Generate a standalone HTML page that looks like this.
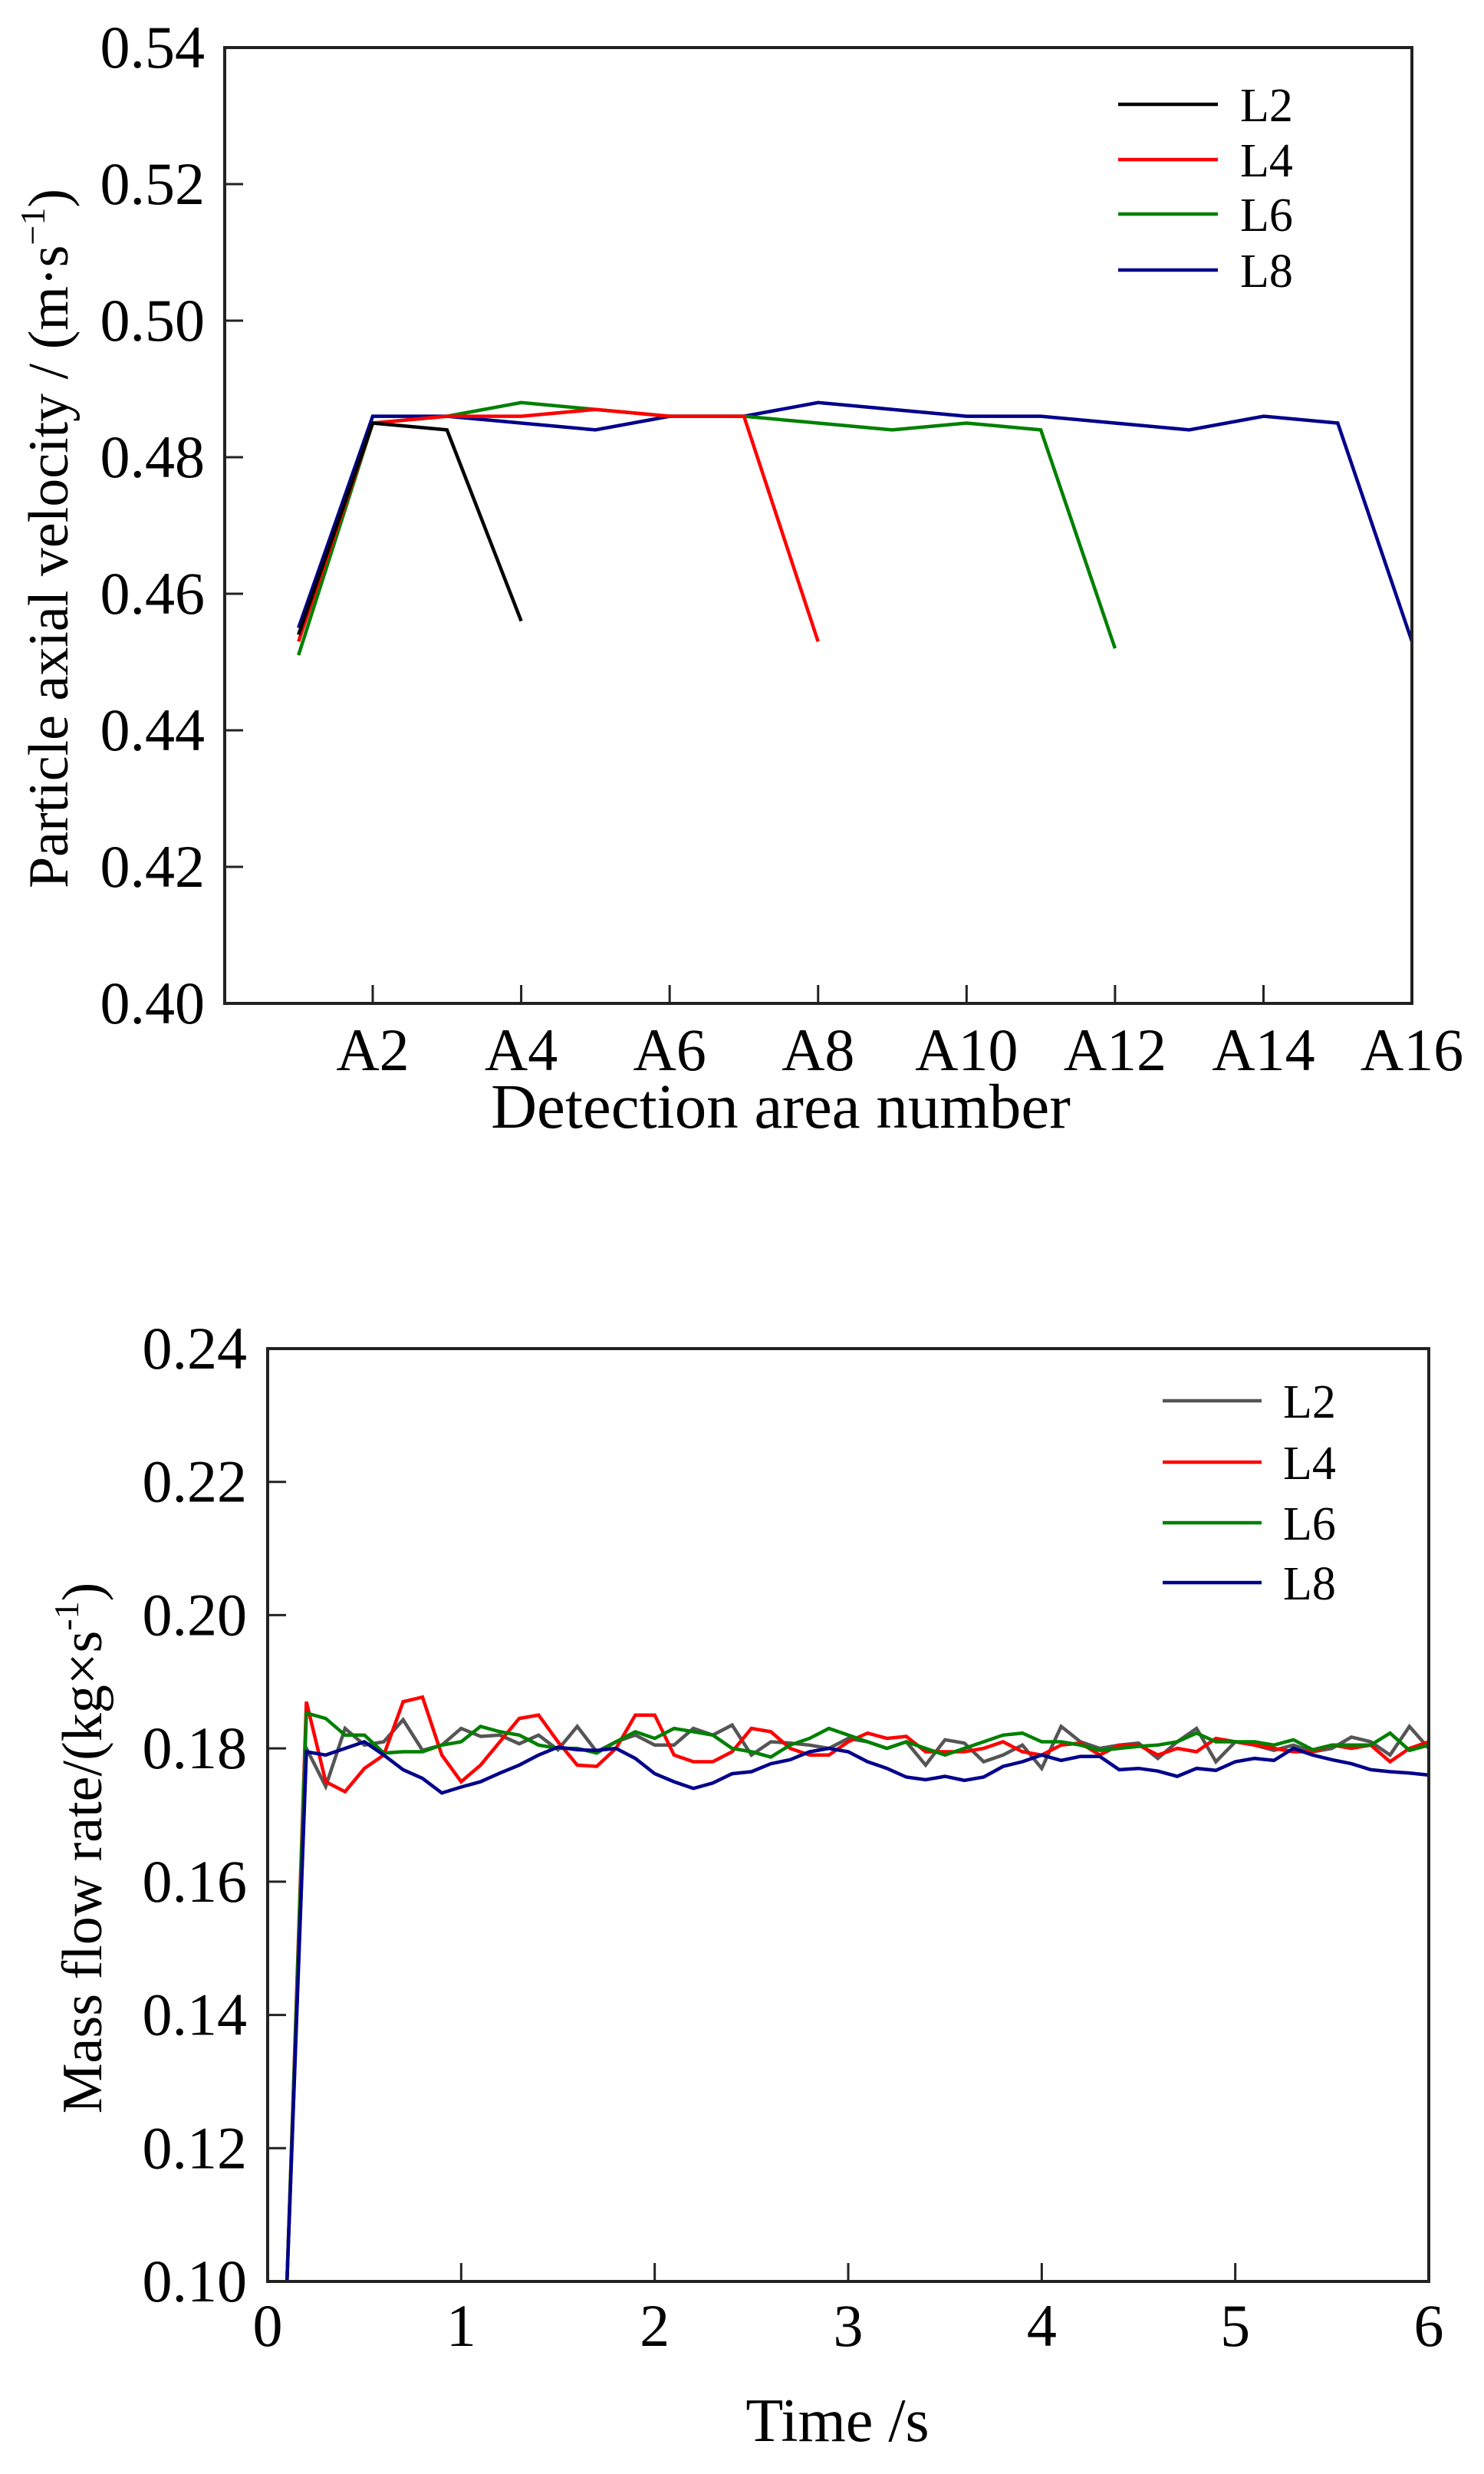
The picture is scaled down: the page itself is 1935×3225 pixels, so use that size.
<!DOCTYPE html>
<html><head><meta charset="utf-8">
<style>
html,body{margin:0;padding:0;background:#fff;}
svg text{font-family:"Liberation Serif","Times New Roman",serif;fill:#000;}
</style></head>
<body>
<svg id="s" width="1935" height="3220" viewBox="0 0 1935 3220" xmlns="http://www.w3.org/2000/svg">
<rect width="1935" height="3220" fill="#fff"/>
<g id="c1"></g>
<g id="c2"></g>
<text x="1018" y="1470" font-size="83" text-anchor="middle">Detection area number</text>
<text transform="translate(88,702) rotate(-90)" font-size="74" text-anchor="middle">Particle axial velocity / (m·s<tspan font-size="46" dy="-30">−1</tspan><tspan dy="30">)</tspan></text>
<text x="1092" y="3182" font-size="80" text-anchor="middle">Time /s</text>
<text transform="translate(132,2409) rotate(-90)" font-size="74" text-anchor="middle">Mass flow rate/(kg×s<tspan font-size="46" dy="-30">-1</tspan><tspan dy="30">)</tspan></text>
</svg>
<script>
var NS="http://www.w3.org/2000/svg";
function el(g,t,a,txt){var e=document.createElementNS(NS,t);for(var k in a)e.setAttribute(k,a[k]);if(txt!==undefined)e.textContent=txt;g.appendChild(e);return e;}
var g1=document.getElementById("c1");
var L1=293,R1=1841,T1=62,B1=1308;
function x1(a){return 486+(a-2)*96.79;}
function y1(v){return B1-(v-0.40)/0.14*(B1-T1);}
for(var i=0;i<=7;i++){var v=0.40+i*0.02,y=y1(v);
 el(g1,"line",{x1:L1,y1:y,x2:L1+24,y2:y,stroke:"#222","stroke-width":3});
 el(g1,"text",{x:267,y:y+26,"font-size":78,"text-anchor":"end"},v.toFixed(2));}
for(var a=2;a<=16;a+=2){var x=x1(a);
 el(g1,"line",{x1:x,y1:B1,x2:x,y2:B1-24,stroke:"#222","stroke-width":3});
 el(g1,"text",{x:x,y:1395,"font-size":78,"text-anchor":"middle"},"A"+a);}
var d1={
"#000":[0.454,0.485,0.484,0.456],
"#ff0000":[0.453,0.485,0.486,0.486,0.487,0.486,0.486,0.453],
"#008000":[0.451,0.485,0.486,0.488,0.487,0.486,0.486,0.485,0.484,0.485,0.484,0.452],
"#00008b":[0.455,0.486,0.486,0.485,0.484,0.486,0.486,0.488,0.487,0.486,0.486,0.485,0.484,0.486,0.485,0.453]};
["#00008b","#008000","#ff0000","#000"].forEach(function(c){var p=d1[c].map(function(v,i){return x1(i+1).toFixed(1)+","+y1(v).toFixed(1)}).join(" ");
 el(g1,"polyline",{points:p,fill:"none",stroke:c,"stroke-width":4.5});});
el(g1,"rect",{x:L1,y:T1,width:R1-L1,height:B1-T1,fill:"none",stroke:"#222","stroke-width":4});
[["#000","L2",136],["#ff0000","L4",208],["#008000","L6",279],["#00008b","L8",352]].forEach(function(l){el(g1,"line",{x1:1458,y1:l[2],x2:1588,y2:l[2],stroke:l[0],"stroke-width":4.5});
 el(g1,"text",{x:1617,y:l[2]+22,"font-size":62},l[1]);});
var g2=document.getElementById("c2");
var L2=349,R2=1863,T2=1758,B2=2974;
function x2(t){return L2+t/6*(R2-L2);}
function y2(v){return B2-(v-0.10)/0.14*(B2-T2);}
for(var i=0;i<=7;i++){var v=0.10+i*0.02,y=y2(v);
 el(g2,"line",{x1:L2,y1:y,x2:L2+24,y2:y,stroke:"#222","stroke-width":3});
 el(g2,"text",{x:322,y:y+26,"font-size":78,"text-anchor":"end"},v.toFixed(2));}
for(var t=0;t<=6;t++){var x=x2(t);
 if(t>0&&t<6)el(g2,"line",{x1:x,y1:B2,x2:x,y2:B2-24,stroke:"#222","stroke-width":3});
 el(g2,"text",{x:x,y:3058,"font-size":78,"text-anchor":"middle"},""+t);}
var d2={
"#555":[0.10,0.18,0.1743,0.183,0.1805,0.181,0.1843,0.1797,0.1805,0.183,0.1818,0.182,0.1807,0.182,0.1798,0.1833,0.1795,0.181,0.182,0.1805,0.1805,0.183,0.182,0.1835,0.179,0.181,0.1808,0.1805,0.180,0.1815,0.181,0.180,0.181,0.1775,0.1813,0.1808,0.178,0.179,0.1805,0.177,0.1833,0.181,0.180,0.1805,0.1808,0.1785,0.181,0.183,0.178,0.181,0.1805,0.1797,0.1805,0.1795,0.180,0.1817,0.181,0.179,0.1833,0.180],
"#ff0000":[0.10,0.187,0.175,0.1735,0.177,0.179,0.187,0.1877,0.179,0.175,0.1775,0.181,0.1845,0.185,0.181,0.1775,0.1773,0.180,0.185,0.185,0.179,0.178,0.178,0.1795,0.183,0.1825,0.180,0.179,0.179,0.181,0.1823,0.1815,0.1818,0.1795,0.1795,0.1795,0.180,0.181,0.1795,0.179,0.1805,0.1808,0.179,0.1805,0.1805,0.179,0.180,0.1795,0.1815,0.181,0.1805,0.180,0.1795,0.1795,0.1805,0.180,0.1805,0.178,0.18,0.181],
"#008000":[0.10,0.1853,0.1845,0.182,0.182,0.1793,0.1795,0.1795,0.1805,0.181,0.1833,0.1825,0.182,0.1805,0.180,0.180,0.1793,0.181,0.1825,0.1815,0.183,0.1825,0.182,0.180,0.1795,0.1787,0.1805,0.1815,0.183,0.182,0.181,0.180,0.181,0.180,0.179,0.180,0.181,0.182,0.1823,0.181,0.181,0.1805,0.1797,0.180,0.1803,0.1805,0.181,0.1823,0.181,0.181,0.181,0.1805,0.1813,0.1798,0.1805,0.1805,0.1805,0.1823,0.1797,0.1805],
"#00008b":[0.10,0.1795,0.179,0.180,0.181,0.179,0.1768,0.1755,0.1733,0.1742,0.175,0.1763,0.1775,0.179,0.1802,0.1798,0.1797,0.180,0.1785,0.1762,0.175,0.174,0.1748,0.1762,0.1765,0.1777,0.1783,0.1795,0.180,0.1795,0.178,0.177,0.1757,0.1753,0.1758,0.1752,0.1757,0.1773,0.178,0.179,0.1782,0.1788,0.1788,0.1768,0.177,0.1766,0.1758,0.177,0.1767,0.178,0.1785,0.1782,0.180,0.179,0.1783,0.1777,0.1768,0.1765,0.1763,0.176]};
["#555","#ff0000","#008000","#00008b"].forEach(function(c){var p=d2[c].map(function(v,i){return x2(0.1+i*0.1).toFixed(1)+","+y2(v).toFixed(1)}).join(" ");
 el(g2,"polyline",{points:p,fill:"none",stroke:c,"stroke-width":4.5});});
el(g2,"rect",{x:L2,y:T2,width:R2-L2,height:B2-T2,fill:"none",stroke:"#222","stroke-width":4});
[["#555","L2",1826],["#ff0000","L4",1906],["#008000","L6",1985],["#00008b","L8",2063]].forEach(function(l){el(g2,"line",{x1:1516,y1:l[2],x2:1645,y2:l[2],stroke:l[0],"stroke-width":4.5});
 el(g2,"text",{x:1673,y:l[2]+22,"font-size":62},l[1]);});
</script>
</body></html>
